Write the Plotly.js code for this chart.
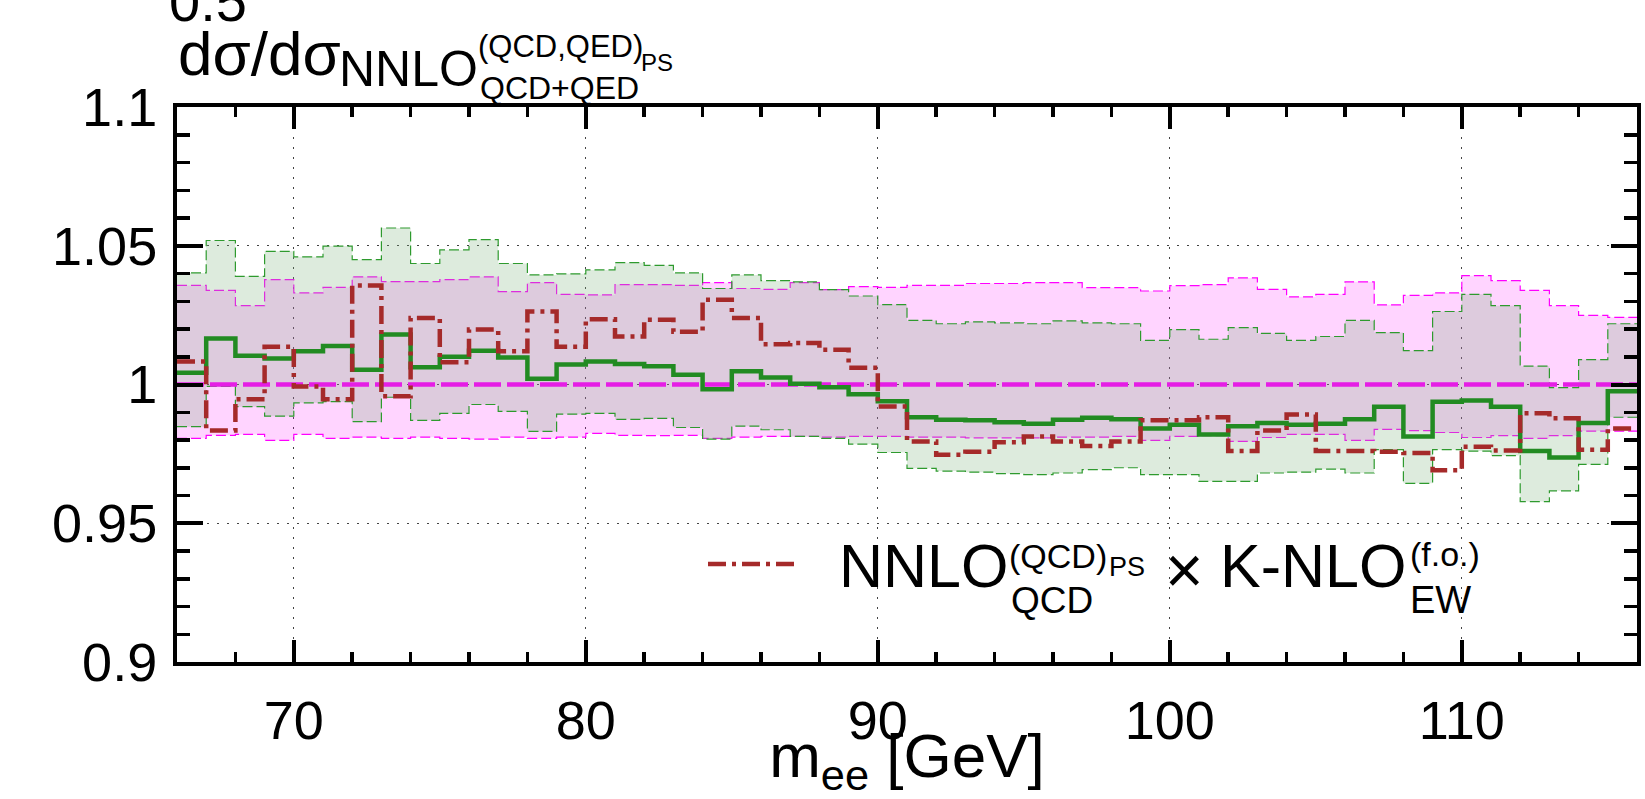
<!DOCTYPE html>
<html><head><meta charset="utf-8">
<script src="https://cdn.plot.ly/plotly-3.0.1.min.js"></script>
<style>html,body{margin:0;padding:0;background:#fff;}#chart{width:1645px;height:799px;}</style>
</head><body><div id="chart"></div>
<script>
// bin edges of m_ee [GeV]
const binEdges = [66,67,68,69,70,71,72,73,74,75,76,77,78,79,80,81,82,83,84,85,86,87,88,89,90,
  91,92,93,94,95,96,97,98,99,100,101,102,103,104,105,106,107,108,109,110,111,112,113,114,115,116];

// reference: NNLO^(QCD,QED)_PS central (ratio = 1) with its band
const refCentral = [1,1,1,1,1,1,1,1,1,1, 1,1,1,1,1,1,1,1,1,1, 1,1,1,1,1,1,1,1,1,1, 1,1,1,1,1,1,1,1,1,1, 1,1,1,1,1,1,1,1,1,1];
const refUpper = [1.0357,1.0339,1.0284,1.0378,1.0330,1.0350,1.0388,1.0371,1.0371,1.0378,
  1.0388,1.0335,1.0367,1.0325,1.0323,1.0360,1.0360,1.0357,1.0367,1.0346,
  1.0343,1.0367,1.0342,1.0353,1.0350,1.0357,1.0357,1.0364,1.0364,1.0367,
  1.0367,1.0349,1.0349,1.0337,1.0356,1.0360,1.0384,1.0343,1.0316,1.0325,
  1.0370,1.0287,1.0321,1.0330,1.0392,1.0374,1.0339,1.0284,1.0249,1.0242];
const refLower = [0.9806,0.9817,0.9820,0.9799,0.9820,0.9806,0.9810,0.9806,0.9810,0.9806,
  0.9803,0.9810,0.9806,0.9810,0.9824,0.9817,0.9816,0.9817,0.9806,0.9810,
  0.9813,0.9813,0.9810,0.9813,0.9813,0.9810,0.9810,0.9808,0.9808,0.9808,
  0.9810,0.9810,0.9813,0.9799,0.9813,0.9816,0.9795,0.9809,0.9820,0.9820,
  0.9799,0.9838,0.9834,0.9827,0.9809,0.9816,0.9806,0.9816,0.9832,0.9832];

// green: alternative prediction (solid) with its band
const greenCentral = [1.0042,1.0166,1.0104,1.0094,1.0120,1.0139,1.0053,1.0180,1.0062,1.0100,
  1.0122,1.0097,1.0021,1.0072,1.0083,1.0074,1.0066,1.0035,0.9983,1.0048,
  1.0025,1.0003,0.9990,0.9965,0.9940,0.9882,0.9873,0.9871,0.9864,0.9859,
  0.9873,0.9880,0.9875,0.9841,0.9855,0.9820,0.9850,0.9861,0.9855,0.9859,
  0.9875,0.9920,0.9813,0.9938,0.9942,0.9920,0.9760,0.9737,0.9861,0.9976];
const greenUpper = [1.0402,1.0519,1.0390,1.0480,1.0460,1.0499,1.0450,1.0564,1.0436,1.0485,
  1.0522,1.0436,1.0395,1.0399,1.0413,1.0439,1.0429,1.0402,1.0346,1.0395,
  1.0374,1.0370,1.0342,1.0319,1.0288,1.0231,1.0219,1.0226,1.0222,1.0219,
  1.0229,1.0222,1.0219,1.0159,1.0198,1.0163,1.0205,1.0184,1.0159,1.0173,
  1.0231,1.0187,1.0122,1.0263,1.0325,1.0284,1.0066,0.9989,1.0090,1.0219];
const greenLower = [0.9848,0.9993,0.9920,0.9886,0.9934,0.9938,0.9866,0.9954,0.9871,0.9896,
  0.9928,0.9903,0.9831,0.9893,0.9896,0.9874,0.9878,0.9845,0.9803,0.9850,
  0.9837,0.9813,0.9806,0.9785,0.9755,0.9698,0.9688,0.9684,0.9679,0.9675,
  0.9681,0.9693,0.9700,0.9675,0.9675,0.9651,0.9651,0.9681,0.9684,0.9695,
  0.9681,0.9765,0.9644,0.9765,0.9760,0.9744,0.9578,0.9617,0.9712,0.9882];

// NNLO^(QCD)_PS x K-NLO^(f.o.)_EW (brown dash-dot)
const brownRatio = [1.0083,0.9834,0.9947,1.0136,0.9993,0.9947,1.0357,0.9958,1.0240,1.0080,
  1.0198,1.0120,1.0263,1.0136,1.0235,1.0173,1.0233,1.0190,1.0305,1.0240,
  1.0145,1.0150,1.0125,1.0060,0.9921,0.9795,0.9747,0.9758,0.9792,0.9813,
  0.9795,0.9778,0.9795,0.9871,0.9871,0.9882,0.9760,0.9834,0.9892,0.9760,
  0.9760,0.9758,0.9753,0.9691,0.9776,0.9762,0.9896,0.9878,0.9765,0.9841];

const xTickVals = [70,80,90,100,110];
const xTickText = ['70','80','90','100','110'];
const yTickVals = [0.9,0.95,1,1.05,1.1];
const yTickText = ['0.9','0.95','1','1.05','1.1'];

// ---------- drawing ----------
const FONT = 'Liberation Sans, Arial, Helvetica, sans-serif';
function step(v){ return v.concat([v[v.length-1]]); }
function stepTrace(vals, line, extra){
  return Object.assign({type:'scatter', mode:'lines', x:binEdges, y:step(vals),
    line:Object.assign({shape:'hv'}, line), hoverinfo:'skip', showlegend:false}, extra||{});
}
const edgeDash = '10px,4px';
const traces = [
  stepTrace(refLower, {color:'#ff00ff', width:1.2, dash:edgeDash}),
  stepTrace(refUpper, {color:'#ff00ff', width:1.2, dash:edgeDash}, {fill:'tonexty', fillcolor:'rgba(255,0,255,0.17)'}),
  stepTrace(greenLower, {color:'#2e9a2e', width:1.2, dash:edgeDash}),
  stepTrace(greenUpper, {color:'#2e9a2e', width:1.2, dash:edgeDash}, {fill:'tonexty', fillcolor:'rgba(122,177,122,0.256)'}),
  stepTrace(refCentral, {color:'#e51ee5', width:4.5, dash:'27px,6px'}),
  stepTrace(greenCentral, {color:'#228b22', width:4.5}),
  stepTrace(brownRatio, {color:'#a52a2a', width:4.5, dash:'18px,6px,4px,6px'})
];

// plot area in pixels
const PL = 177, PR = 1637, PT = 107, PB = 662;
const PW = PR - PL, PH = PB - PT;
function px(x){ return (x - PL) / PW; }
function py(y){ return (PB - y) / PH; }
function txt(text, left, baseline, size, anchor){
  return {xref:'paper', yref:'paper', x:px(left), y:py(baseline - 0.3465*size),
    xanchor:anchor||'left', yanchor:'middle', showarrow:false, text:text,
    font:{family:FONT, size:size, color:'#000'}, borderpad:0};
}
const annotations = [
  txt('0.5', 168, 21, 56),
  txt('dσ/dσ', 177, 75, 62),
  txt('NNLO', 338, 86, 50),
  txt('(QCD,QED)', 477, 57, 31),
  txt('PS', 640, 71, 24),
  txt('QCD+QED', 479, 99, 32),
  txt('NNLO', 838, 587, 61),
  txt('(QCD)', 1008, 568, 34),
  txt('PS', 1108, 576, 27),
  txt('QCD', 1010, 613, 37),
  {xref:'paper', yref:'paper', x:px(1184), y:py(570), xanchor:'center', yanchor:'middle', showarrow:false,
    text:'×', font:{family:FONT, size:66, color:'#000'}, borderpad:0},
  txt('K-NLO', 1219, 587, 61),
  txt('(f.o.)', 1409, 566, 34),
  txt('EW', 1409, 613, 38)
];
const shapes = [
  {type:'rect', xref:'paper', yref:'paper', x0:px(672), x1:px(1637), y0:py(620), y1:py(516),
    fillcolor:'#ffffff', line:{width:0}, layer:'between'},
  {type:'line', xref:'paper', yref:'paper', x0:px(708), x1:px(800), y0:py(564), y1:py(564),
    line:{color:'#a52a2a', width:4.5, dash:'18px,6px,4px,6px'}, layer:'above'}
];

const axisCommon = {showline:true, linewidth:4, linecolor:'#000', mirror:'ticks', ticks:'inside',
  tickcolor:'#000', tickwidth:4, zeroline:false, showgrid:true, gridcolor:'#444', gridwidth:1.2,
  griddash:'1.5px,8.5px', tickfont:{family:FONT, size:54, color:'#000'}, layer:'above traces'};

const layout = {
  width:1645, height:799,
  margin:{l:PL, r:1645-PR, t:PT, b:799-PB, pad:0},
  paper_bgcolor:'#ffffff', plot_bgcolor:'#ffffff',
  font:{family:FONT, color:'#000', size:54},
  showlegend:false,
  xaxis:Object.assign({}, axisCommon, {range:[66,116], tickmode:'array', tickvals:xTickVals, ticktext:xTickText,
    ticklen:22, ticklabelstandoff:8,
    minor:{tickmode:'linear', tick0:66, dtick:2, ticks:'inside', ticklen:10, tickwidth:3.5, tickcolor:'#000', showgrid:false},
    title:{text:'m<sub>ee</sub> [GeV]', font:{family:FONT, size:62, color:'#000'}, standoff:0}}),
  yaxis:Object.assign({}, axisCommon, {range:[0.9,1.1], tickmode:'array', tickvals:yTickVals, ticktext:yTickText,
    ticklen:26, ticklabelstandoff:5,
    minor:{tickmode:'linear', tick0:0.9, dtick:0.01, ticks:'inside', ticklen:13, tickwidth:3.5, tickcolor:'#000', showgrid:false}}),
  annotations:annotations,
  shapes:shapes
};
Plotly.newPlot('chart', traces, layout, {staticPlot:true, displayModeBar:false});
</script></body></html>
